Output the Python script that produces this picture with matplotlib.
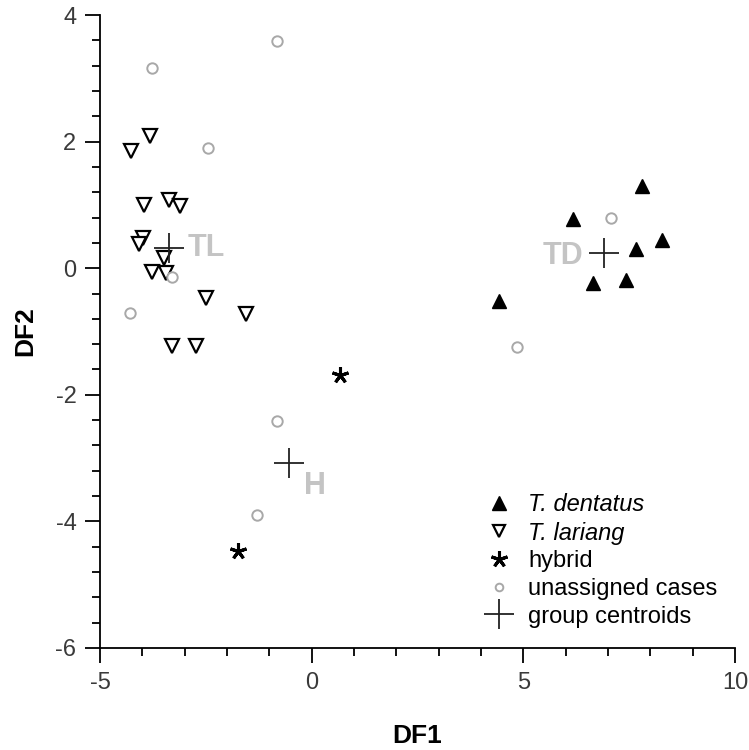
import numpy as np
import matplotlib
matplotlib.use('Agg')
import matplotlib.pyplot as plt

plt.rcParams['font.family'] = ['Liberation Sans', 'DejaVu Sans']
plt.rcParams['axes.unicode_minus'] = False

# T. dentatus
td_x = [7.79, 6.18, 8.27, 7.66, 6.64, 7.42, 4.43]
td_y = [1.30, 0.77, 0.45, 0.30, -0.23, -0.19, -0.52]
# T. lariang
tl_x = [-4.26, -3.81, -3.97, -3.36, -3.12, -3.99, -4.09, -3.48, -3.76, -3.43, -2.49, -1.56, -3.29, -2.74]
tl_y = [1.85, 2.09, 1.00, 1.07, 0.98, 0.47, 0.38, 0.16, -0.06, -0.08, -0.47, -0.73, -1.23, -1.23]
# hybrids
hy_x = [0.66, -1.74]
hy_y = [-1.68, -4.46]
# unassigned cases
un_x = [-3.78, -2.46, -3.31, -4.30, -0.83, 7.07, 4.84, -0.81, -1.30]
un_y = [3.16, 1.90, -0.14, -0.71, 3.59, 0.79, -1.24, -2.42, -3.90]
# group centroids
cen_x = [6.91, -3.38, -0.54]
cen_y = [0.24, 0.32, -3.08]
cen_names = ['TD', 'TL', 'H']

fig = plt.figure(figsize=(7.49, 7.5), dpi=100)
ax = fig.add_axes([0.1335, 0.136, 0.848, 0.844])

ax.plot(td_x, td_y, '^', color='black', ms=10.5, ls='none', label='T. dentatus')
ax.plot(tl_x, tl_y, 'v', mfc='white', mec='black', mew=1.6, ms=10, ls='none', label='T. lariang')
ax.plot(hy_x, hy_y, marker=(5, 2), color='black', mew=2.2, ms=12, ls='none', label='hybrid')
ax.plot(un_x, un_y, 'o', mfc='white', mec='#a8a8a8', mew=1.4, ms=7.5, ls='none', label='unassigned cases')
ax.plot(cen_x, cen_y, '+', color='#222222', mew=1.3, ms=22, ls='none', label='group centroids')

gray = '#c4c4c4'
ax.text(6.41, 0.19, cen_names[0], color=gray, fontsize=22, fontweight='bold', ha='right', va='center')
ax.text(-2.93, 0.32, cen_names[1], color=gray, fontsize=22, fontweight='bold', ha='left', va='center')
ax.text(-0.19, -3.44, cen_names[2], color=gray, fontsize=22, fontweight='bold', ha='left', va='center')

ax.set_xlim(-5, 10)
ax.set_ylim(-6, 4)
ax.set_xticks([-5, 0, 5, 10])
ax.set_yticks([-6, -4, -2, 0, 2, 4])
ax.set_xticks(np.arange(-5, 10.01, 1), minor=True)
ax.set_yticks(np.arange(-6, 4.01, 0.4), minor=True)
ax.spines['top'].set_visible(False)
ax.spines['right'].set_visible(False)
for s in ['left', 'bottom']:
    ax.spines[s].set_linewidth(1.3)
ax.tick_params(which='major', length=11, width=1.3, labelsize=17, labelcolor='#3a3a3a', pad=6)
ax.tick_params(which='minor', length=5.5, width=1.3)

ax.set_xlabel('DF1', fontsize=19, fontweight='bold', labelpad=22)
ax.set_ylabel('DF2', fontsize=19, fontweight='bold', labelpad=13)

leg = ax.legend(loc='upper left', bbox_to_anchor=(0.6, 0.245), frameon=False, fontsize=17,
                borderaxespad=0, borderpad=0, handlelength=1.5, handletextpad=0.5,
                labelspacing=0.24, numpoints=1)
for t in leg.get_texts()[:2]:
    t.set_style('italic')
hs = leg.legend_handles
hs[1].set_markersize(8)
hs[3].set_markersize(5.5)

fig.savefig('out.png', dpi=100)
